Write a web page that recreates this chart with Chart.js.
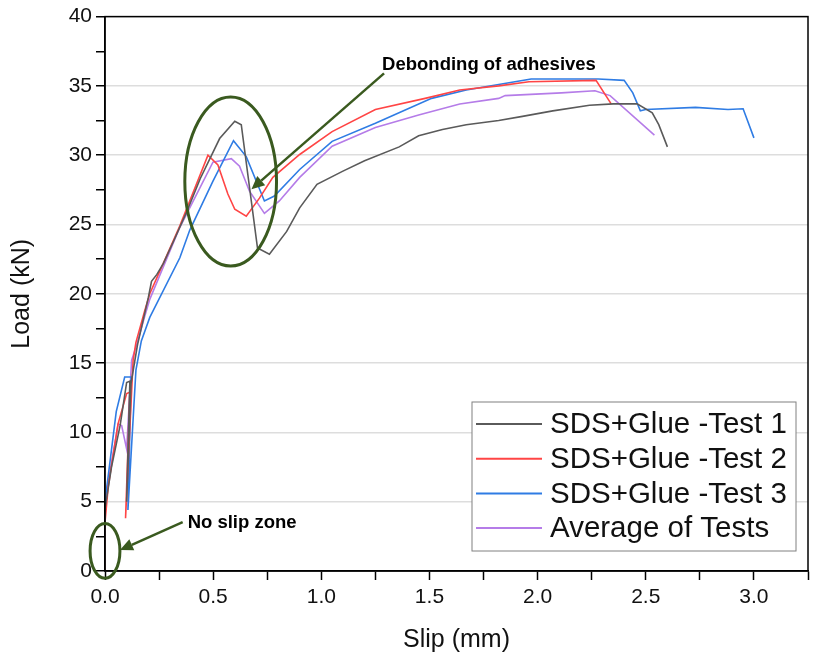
<!DOCTYPE html>
<html lang="en">
  <head>
    <meta charset="UTF-8" />
    <title>Load - Slip</title>
    <script src="https://cdn.jsdelivr.net/npm/chart.js@4.4.1/dist/chart.umd.min.js"></script>
    <style>
      body {
        margin: 0;
        background: #fff;
      }
      #chart {
        display: block;
      }
    </style>
  </head>
  <body>
    <canvas id="chart" width="813" height="661"></canvas>

    <script>
      const seriesNames = [
        "SDS+Glue -Test 1",
        "SDS+Glue -Test 2",
        "SDS+Glue -Test 3",
        "Average of Tests",
      ];

      // slip (mm) / load (kN)
      const test1Slip = [0, 0, 0.03, 0.07, 0.1, 0.115, 0.1, 0.12, 0.15, 0.2, 0.215, 0.24, 0.27, 0.32, 0.38, 0.44, 0.53, 0.6, 0.63, 0.705, 0.76, 0.84, 0.9, 0.98, 1.1, 1.2, 1.36, 1.45, 1.56, 1.67, 1.82, 1.93, 2.07, 2.24, 2.35, 2.46, 2.53, 2.56, 2.6];
      const test1Load = [0, 4.5, 7.5, 10.5, 13.6, 13.7, 5.0, 13.5, 16.3, 19.7, 20.9, 21.4, 22.2, 23.9, 26.0, 28.3, 31.2, 32.45, 32.2, 23.3, 22.85, 24.5, 26.2, 27.9, 28.85, 29.6, 30.6, 31.4, 31.85, 32.2, 32.5, 32.8, 33.2, 33.6, 33.7, 33.7, 33.05, 32.2, 30.6];

      const test2Slip = [0, 0, 0.015, 0.03, 0.06, 0.1, 0.115, 0.095, 0.13, 0.143, 0.184, 0.207, 0.315, 0.346, 0.476, 0.522, 0.568, 0.6, 0.653, 0.714, 0.776, 0.9, 1.05, 1.25, 1.48, 1.64, 1.82, 1.96, 2.27, 2.34];
      const test2Load = [0, 3.5, 6.1, 7.6, 10.6, 12.8, 12.9, 3.8, 15.2, 16.5, 18.8, 20.0, 23.8, 24.9, 30.0, 29.3, 27.2, 26.1, 25.6, 26.9, 28.4, 30.05, 31.7, 33.3, 34.1, 34.7, 35.0, 35.3, 35.4, 33.7];

      const test3Slip = [0, 0, 0.052, 0.091, 0.121, 0.106, 0.143, 0.168, 0.207, 0.346, 0.392, 0.498, 0.594, 0.653, 0.737, 0.783, 0.9, 1.05, 1.25, 1.51, 1.67, 1.82, 1.97, 2.28, 2.4, 2.44, 2.475, 2.5, 2.73, 2.88, 2.95, 3.0];
      const test3Load = [0, 5.0, 11.5, 14.0, 14.0, 4.4, 14.5, 16.6, 18.3, 22.6, 24.6, 28.1, 31.05, 29.9, 26.7, 27.05, 28.97, 31.0, 32.3, 34.1, 34.7, 35.1, 35.5, 35.5, 35.4, 34.5, 33.2, 33.3, 33.45, 33.3, 33.35, 31.25];

      const avgSlip = [0, 0, 0.03, 0.061, 0.077, 0.1, 0.123, 0.15, 0.184, 0.207, 0.346, 0.499, 0.584, 0.622, 0.668, 0.737, 0.806, 0.9, 1.05, 1.25, 1.45, 1.64, 1.82, 1.85, 2.11, 2.265, 2.335, 2.54];
      const avgLoad = [0, 5.1, 7.8, 10.6, 10.5, 8.8, 15.2, 16.5, 18.4, 19.6, 24.8, 29.5, 29.75, 29.2, 27.4, 25.8, 26.7, 28.4, 30.65, 32.0, 32.9, 33.7, 34.1, 34.3, 34.5, 34.65, 34.3, 31.45];

      const colors = ["#5a5a5a", "#ff4545", "#2f7ce4", "#b57ce8"];

      const pairs = (xs, ys) => xs.map((x, i) => ({ x: x, y: ys[i] }));
      const allData = [
        pairs(test1Slip, test1Load),
        pairs(test2Slip, test2Load),
        pairs(test3Slip, test3Load),
        pairs(avgSlip, avgLoad),
      ];

      const FONT = '"Liberation Sans", Arial, sans-serif';
      const GREEN = "#3a5a1f";

      function arrow(ctx, x1, y1, x2, y2) {
        const ang = Math.atan2(y2 - y1, x2 - x1);
        const head = 13;
        const bx = x2 - head * Math.cos(ang);
        const by = y2 - head * Math.sin(ang);
        ctx.beginPath();
        ctx.moveTo(x1, y1);
        ctx.lineTo(bx, by);
        ctx.stroke();
        ctx.beginPath();
        ctx.moveTo(x2, y2);
        ctx.lineTo(bx + 6 * Math.sin(ang), by - 6 * Math.cos(ang));
        ctx.lineTo(bx - 6 * Math.sin(ang), by + 6 * Math.cos(ang));
        ctx.closePath();
        ctx.fill();
      }

      // frame, notes and legend drawn over the plot
      const overlay = {
        id: "overlay",
        afterDatasetsDraw(chart) {
          const { ctx, chartArea: a } = chart;
          const sx = chart.scales.x;
          const sy = chart.scales.y;
          const px = (v) => sx.getPixelForValue(v);
          const py = (v) => sy.getPixelForValue(v);

          ctx.save();
          ctx.strokeStyle = "#000";
          ctx.lineWidth = 1.5;
          ctx.strokeRect(a.left, a.top, a.right - a.left, a.bottom - a.top);

          // ellipses
          ctx.strokeStyle = GREEN;
          ctx.fillStyle = GREEN;
          ctx.lineWidth = 3;
          [
            { x: 0.581, y: 28.1, rx: 0.212, ry: 6.1 },
            { x: 0, y: 1.45, rx: 0.069, ry: 1.98 },
          ].forEach((e) => {
            ctx.beginPath();
            ctx.ellipse(
              px(e.x),
              py(e.y),
              px(e.x + e.rx) - px(e.x),
              py(e.y) - py(e.y + e.ry),
              0,
              0,
              Math.PI * 2
            );
            ctx.stroke();
          });

          ctx.lineWidth = 2.5;
          arrow(ctx, px(1.29), py(35.9), px(0.677), py(27.55));
          arrow(ctx, px(0.359), py(3.53), px(0.069), py(1.51));

          ctx.fillStyle = "#000";
          ctx.font = "bold 18.5px " + FONT;
          ctx.textBaseline = "middle";
          ctx.textAlign = "left";
          ctx.fillText("Debonding of adhesives", px(1.281), py(36.55));
          ctx.fillText("No slip zone", px(0.382), py(3.45));

          // legend box
          const lw = 324,
            lh = 149;
          const lx = a.right - 336,
            ly = a.bottom - 169;
          ctx.fillStyle = "#fff";
          ctx.fillRect(lx, ly, lw, lh);
          ctx.strokeStyle = "#808080";
          ctx.lineWidth = 1;
          ctx.strokeRect(lx, ly, lw, lh);
          ctx.font = "29.5px " + FONT;
          seriesNames.forEach((name, i) => {
            const yy = ly + 22 + i * 34.7;
            ctx.strokeStyle = colors[i];
            ctx.lineWidth = 2;
            ctx.beginPath();
            ctx.moveTo(lx + 4, yy);
            ctx.lineTo(lx + 70, yy);
            ctx.stroke();
            ctx.fillStyle = "#111";
            ctx.fillText(name, lx + 78, yy + 1);
          });
          ctx.restore();
        },
      };

      new Chart(document.getElementById("chart"), {
        type: "line",
        data: {
          datasets: allData.map((d, i) => ({
            label: seriesNames[i],
            data: d,
            borderColor: colors[i],
            backgroundColor: colors[i],
            borderWidth: 1.6,
            pointRadius: 0,
            tension: 0,
            fill: false,
          })),
        },
        options: {
          responsive: false,
          animation: false,
          layout: { padding: { top: 15, right: 5, left: 0, bottom: 0 } },
          plugins: {
            legend: { display: false },
            tooltip: { enabled: false },
          },
          scales: {
            x: {
              type: "linear",
              min: 0,
              max: 3.25,
              afterFit: (s) => {
                s.height = 90;
              },
              ticks: {
                stepSize: 0.25,
                autoSkip: false,
                maxRotation: 0,
                padding: 5,
                color: "#111",
                font: { size: 21, family: FONT },
                callback: (v) =>
                  Math.abs(v * 2 - Math.round(v * 2)) < 1e-6 ? v.toFixed(1) : "",
              },
              grid: {
                drawOnChartArea: false,
                tickLength: 9,
                tickColor: "#000",
                tickWidth: 1.5,
              },
              border: { color: "#000", width: 1.5 },
              title: {
                display: true,
                text: "Slip (mm)",
                color: "#111",
                font: { size: 25, family: FONT },
                padding: { bottom: 6 },
              },
            },
            y: {
              min: 0,
              max: 40,
              afterFit: (s) => {
                s.width = 105;
              },
              ticks: {
                stepSize: 2.5,
                autoSkip: false,
                padding: 4,
                color: "#111",
                font: { size: 21, family: FONT },
                callback: (v) => (v % 5 === 0 ? String(v) : ""),
              },
              grid: {
                color: (c) =>
                  c.tick && c.tick.value % 5 === 0 ? "#dddddd" : "rgba(0,0,0,0)",
                lineWidth: 1.5,
                tickLength: 9,
                tickColor: "#000",
                tickWidth: 1.5,
              },
              border: { color: "#000", width: 1.5 },
              title: {
                display: true,
                text: "Load (kN)",
                color: "#111",
                font: { size: 25, family: FONT },
                padding: { top: 7 },
              },
            },
          },
        },
        plugins: [overlay],
      });
    </script>
  </body>
</html>
